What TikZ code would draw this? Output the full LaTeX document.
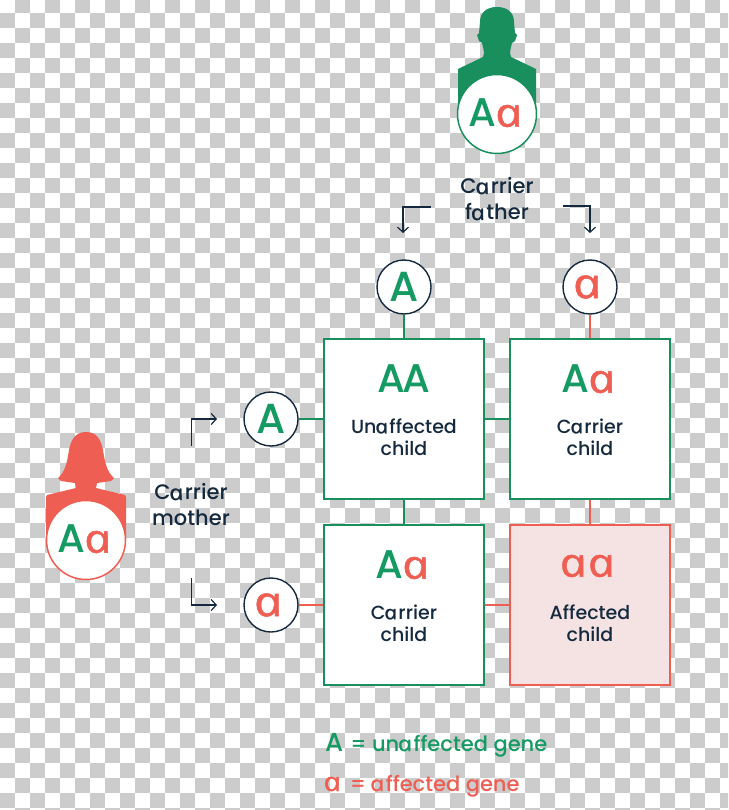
\documentclass[tikz,border=0pt]{standalone}
\usepackage{fontspec}
\setmainfont[UprightFont=* Medium]{Poppins}
\newfontfamily\aface[UprightFont=* Italic,FakeSlant=-0.26,FakeBold=1.2,FakeStretch=1.2,Scale=1.0]{Open Sans}
\definecolor{gr}{HTML}{149A62}
\definecolor{grd}{HTML}{1A8F5E}
\definecolor{rd}{HTML}{EE5E52}
\definecolor{nv}{HTML}{14293D}
\definecolor{chk}{HTML}{CCCCCC}
\definecolor{pk}{HTML}{F5E3E3}
\newcommand{\sa}{{\aface a}}
\newcommand{\gA}{\textcolor{gr}{A}}
\newcommand{\ra}{\textcolor{rd}{\sa}}
\tikzset{
  x=1pt,y=-1pt,
  gene/.style={circle,draw=nv,line width=1.4pt,fill=white,minimum size=54pt,inner sep=0pt,font=\fontsize{42}{42}\selectfont},
  parent/.style={circle,line width=1.5pt,fill=white,minimum size=79pt,inner sep=0pt},
  cell/.style={rectangle,draw=grd,line width=1.5pt,fill=white,minimum size=160pt,inner sep=0pt},
  badcell/.style={cell,draw=rd,fill=pk},
  pair/.style={inner sep=0pt,font=\fontsize{40}{40}\selectfont},
  lab/.style={inner sep=0pt,align=center,text=nv,font=\fontsize{19}{22}\selectfont},
  caption/.style={inner sep=0pt,align=center,text=nv,font=\fontsize{21}{26}\selectfont},
  leg/.style={inner sep=0pt,anchor=base west,font=\fontsize{21}{24}\selectfont},
  glink/.style={draw=grd,line width=1.4pt},
  rlink/.style={draw=rd,line width=1.4pt},
  turn/.style={draw=nv,line width=1.2pt,-{Straight Barb[length=5pt,width=11pt]}},
}
\usetikzlibrary{arrows.meta}
\begin{document}
\begin{tikzpicture}
\useasboundingbox (0,0) rectangle (728,810);
\begin{scope}
\clip (0,0) rectangle (728,810);
\fill[white] (0,0) rectangle (728,810);
\foreach \i in {0,...,48}{
  \foreach \j in {0,...,54}{
    \pgfmathparse{int(mod(\i+\j,2))}
    \ifnum\pgfmathresult=1
      \fill[chk] (15*\i,15*\j-2.3) rectangle ++(15,15);
    \fi
  }
}
\end{scope}
% father
\fill[grd] (497,7) .. controls (486,7) and (480,13) .. (480,22)
  -- (479,33) -- (477,35) -- (479,41) -- (482,43) .. controls (483,48) and (484,50) .. (484,53)
  -- (483,57) -- (458,69) -- (458,114) -- (536,114) -- (536,69) -- (511,57) -- (510,53)
  .. controls (510,50) and (511,48) .. (512,43) -- (515,41) -- (517,35) -- (515,33) -- (514,22)
  .. controls (514,13) and (508,7) .. (497,7) -- cycle;
\node[parent,draw=grd] (fa) at (497,114) {};
\node[pair] (faT) at (497,113) {\gA\kern1pt\ra};
% mother
\fill[rd] (86,432) .. controls (75,432) and (71,440) .. (69,450)
  .. controls (67,463) and (65,472) .. (58,478) -- (61,481) -- (75,483) -- (76,488) -- (47,495)
  -- (46,497) -- (46,540) -- (126,540) -- (126,497) -- (125,495) -- (96,488) -- (97,483) -- (111,481) -- (114,478)
  .. controls (107,472) and (105,463) .. (103,450) .. controls (101,440) and (97,432) .. (86,432) -- cycle;
\node[parent,draw=rd] (mo) at (86,540) {};
\node[pair] (moT) at (86,539) {\gA\kern1pt\ra};
% captions
\node[caption] (fc) at (497,199) {C\sa rrier\\f\sa ther};
\node[caption] (mc) at (191,505) {C\sa rrier\\mother};
% cells
\node[cell] (c1) at (404,419) {};
\node[cell] (c2) at (590,419) {};
\node[cell] (c3) at (404,605) {};
\node[badcell] (c4) at (590,605) {};
% gene circles
\node[gene,text=gr] (gA) at (404,287) {A};
\node[gene,text=rd] (ga) at (590,287) {\sa};
\node[gene,text=gr] (mA) at (271,419) {A};
\node[gene,text=rd] (ma) at (271,605) {\sa};
% links
\draw[glink] (gA) -- (c1);
\draw[rlink] (ga) -- (c2);
\draw[glink] (mA) -- (c1);
\draw[rlink] (ma) -- (c3);
\draw[glink] (c1) -- (c2);
\draw[glink] (c1) -- (c3);
\draw[rlink] (c2) -- (c4);
\draw[rlink] (c3) -- (c4);
% cell text
\node[pair] (t1) at (404,379) {\gA\kern-2.5pt\gA};
\node[pair] (t2) at (590,379) {\gA\kern1pt\ra};
\node[pair] (t3) at (404,565) {\gA\kern1pt\ra};
\node[pair] (t4) at (590,566) {\ra\kern1pt\ra};
\node[lab] (l1) at (404,437) {Un\sa ffected\\child};
\node[lab] (l2) at (590,437) {C\sa rrier\\child};
\node[lab] (l3) at (404,623) {C\sa rrier\\child};
\node[lab] (l4) at (590,623) {Affected\\child};
% elbow arrows
\coordinate (a1s) at (431,207); \coordinate (a1k) at (403,207); \coordinate (a1e) at (403,233);
\coordinate (a2s) at (563,206); \coordinate (a2k) at (590,206); \coordinate (a2e) at (590,233);
\coordinate (a3s) at (191.7,446); \coordinate (a3k) at (191.7,419); \coordinate (a3e) at (217,419);
\coordinate (a4s) at (191.7,578); \coordinate (a4k) at (191.7,605); \coordinate (a4e) at (217,605);
\draw[turn] (a1s) -- (a1k) -- (a1e);
\draw[turn] (a2s) -- (a2k) -- (a2e);
\draw[turn] (a3s) -- (a3k) -- (a3e);
\draw[turn] (a4s) -- (a4k) -- (a4e);
% legend
\node[leg,text=gr] (lg1) at (325,751) {\fontsize{26}{26}\selectfont A\hspace{7pt}\fontsize{21}{24}\selectfont = un\sa ffected gene};
\node[leg,text=rd] (lg2) at (325,791) {\fontsize{26}{26}\selectfont\sa\hspace{7pt}\fontsize{21}{24}\selectfont = \sa ffected gene};
\end{tikzpicture}
\end{document}
